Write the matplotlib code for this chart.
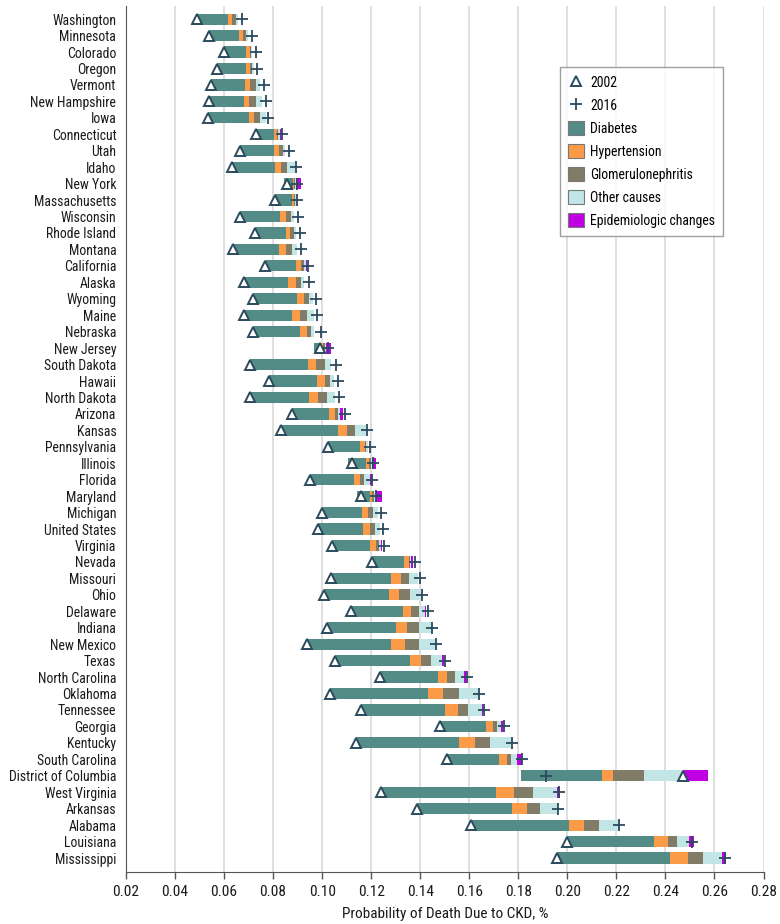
import matplotlib
matplotlib.use("Agg")
import matplotlib.pyplot as plt
from matplotlib import font_manager
from matplotlib.patches import Patch
from matplotlib.lines import Line2D
import numpy as np

installed = {f.name for f in font_manager.fontManager.ttflist}
main_font = "Lato"
for cand in ["Roboto Condensed", "Fira Sans Condensed", "Source Sans 3", "Lato"]:
    if cand in installed:
        main_font = cand
        break
plt.rcParams['font.family'] = [main_font, "DejaVu Sans"]

states = ["Washington", "Minnesota", "Colorado", "Oregon", "Vermont", "New Hampshire", "Iowa",
          "Connecticut", "Utah", "Idaho", "New York", "Massachusetts", "Wisconsin", "Rhode Island",
          "Montana", "California", "Alaska", "Wyoming", "Maine", "Nebraska", "New Jersey",
          "South Dakota", "Hawaii", "North Dakota", "Arizona", "Kansas", "Pennsylvania", "Illinois",
          "Florida", "Maryland", "Michigan", "United States", "Virginia", "Nevada", "Missouri",
          "Ohio", "Delaware", "Indiana", "New Mexico", "Texas", "North Carolina", "Oklahoma",
          "Tennessee", "Georgia", "Kentucky", "South Carolina", "District of Columbia",
          "West Virginia", "Arkansas", "Alabama", "Louisiana", "Mississippi"]

p2002 = [0.0489, 0.0538, 0.0598, 0.0572, 0.0545, 0.0538, 0.0533, 0.0730, 0.0663, 0.0632,
         0.0856, 0.0806, 0.0666, 0.0726, 0.0638, 0.0765, 0.0681, 0.0718, 0.0681, 0.0718,
         0.0990, 0.0707, 0.0783, 0.0707, 0.0878, 0.0833, 0.1024, 0.1123, 0.0952, 0.1160,
         0.1001, 0.0983, 0.1040, 0.1205, 0.1035, 0.1007, 0.1116, 0.1020, 0.0940, 0.1052,
         0.1235, 0.1031, 0.1157, 0.1482, 0.1137, 0.1509, 0.2473, 0.1238, 0.1385, 0.1608,
         0.1998, 0.1956]

p2016 = [0.0673, 0.0713, 0.0729, 0.0734, 0.0762, 0.0769, 0.0779, 0.0835, 0.0865, 0.0892,
         0.0899, 0.0897, 0.0901, 0.0908, 0.0914, 0.0942, 0.0946, 0.0973, 0.0979, 0.0995,
         0.1022, 0.1055, 0.1066, 0.1067, 0.1092, 0.1183, 0.1194, 0.1207, 0.1205, 0.1221,
         0.1238, 0.1248, 0.1251, 0.1378, 0.1401, 0.1409, 0.1432, 0.1450, 0.1466, 0.1500,
         0.1589, 0.1638, 0.1659, 0.1742, 0.1773, 0.1816, 0.1911, 0.1966, 0.1963, 0.2212,
         0.2509, 0.2645]

bar_left = [0.0489, 0.0538, 0.0598, 0.0572, 0.0545, 0.0538, 0.0533, 0.0730, 0.0663, 0.0632,
            0.0844, 0.0806, 0.0666, 0.0726, 0.0638, 0.0765, 0.0681, 0.0718, 0.0681, 0.0718,
            0.0967, 0.0707, 0.0783, 0.0707, 0.0878, 0.0833, 0.1024, 0.1105, 0.0952, 0.1142,
            0.1001, 0.0983, 0.1040, 0.1205, 0.1035, 0.1007, 0.1116, 0.1020, 0.0940, 0.1052,
            0.1235, 0.1031, 0.1157, 0.1482, 0.1137, 0.1509, 0.1810, 0.1238, 0.1385, 0.1608,
            0.1998, 0.1956]

diabetes = [0.0127, 0.0122, 0.0092, 0.0116, 0.0142, 0.0143, 0.0167, 0.0072, 0.0139, 0.0175,
            0.0036, 0.0070, 0.0161, 0.0125, 0.0186, 0.0130, 0.0179, 0.0181, 0.0196, 0.0190,
            0.0030, 0.0235, 0.0196, 0.0238, 0.0150, 0.0232, 0.0129, 0.0075, 0.0177, 0.0055,
            0.0163, 0.0184, 0.0154, 0.0128, 0.0247, 0.0266, 0.0214, 0.0283, 0.0342, 0.0305,
            0.0238, 0.0400, 0.0342, 0.0185, 0.0420, 0.0211, 0.0332, 0.0469, 0.0388, 0.0400,
            0.0355, 0.0464]

hypertension = [0.0016, 0.0018, 0.0014, 0.0016, 0.0020, 0.0020, 0.0022, 0.0015, 0.0022, 0.0026,
                0.0007, 0.0008, 0.0024, 0.0019, 0.0030, 0.0020, 0.0032, 0.0025, 0.0031, 0.0030,
                0.0006, 0.0031, 0.0031, 0.0038, 0.0023, 0.0036, 0.0020, 0.0011, 0.0027, 0.0008,
                0.0023, 0.0030, 0.0027, 0.0021, 0.0041, 0.0041, 0.0031, 0.0043, 0.0055, 0.0048,
                0.0038, 0.0062, 0.0055, 0.0030, 0.0065, 0.0032, 0.0045, 0.0075, 0.0061, 0.0061,
                0.0057, 0.0073]

glomerulonephritis = [0.0018, 0.0012, 0.0007, 0.0010, 0.0024, 0.0030, 0.0023, 0.0004, 0.0018, 0.0025,
                      0.0003, 0.0004, 0.0022, 0.0014, 0.0024, 0.0009, 0.0023, 0.0021, 0.0029, 0.0018,
                      0.0007, 0.0037, 0.0021, 0.0038, 0.0014, 0.0032, 0.0007, 0.0007, 0.0013, 0.0005,
                      0.0020, 0.0017, 0.0010, 0.0006, 0.0031, 0.0043, 0.0033, 0.0048, 0.0058, 0.0037,
                      0.0030, 0.0064, 0.0041, 0.0016, 0.0062, 0.0020, 0.0126, 0.0077, 0.0056, 0.0059,
                      0.0038, 0.0061]

other_causes = [0.0007, 0.0007, 0.0004, 0.0006, 0.0017, 0.0025, 0.0027, 0.0006, 0.0008, 0.0030,
                0.0005, 0.0004, 0.0011, 0.0008, 0.0021, 0.0009, 0.0009, 0.0017, 0.0028, 0.0009,
                0.0007, 0.0028, 0.0017, 0.0030, 0.0006, 0.0047, 0.0007, 0.0005, 0.0025, 0.0011,
                0.0021, 0.0021, 0.0007, 0.0004, 0.0037, 0.0044, 0.0024, 0.0054, 0.0064, 0.0045,
                0.0038, 0.0081, 0.0055, 0.0018, 0.0085, 0.0021, 0.0160, 0.0097, 0.0073, 0.0081,
                0.0050, 0.0077]

epidemiologic = [0.0, 0.0, 0.0, 0.0, 0.0, 0.0, 0.0, 0.0005, 0.0, 0.0,
                 0.0020, 0.0, 0.0, 0.0, 0.0, 0.0005, 0.0, 0.0, 0.0, 0.0,
                 0.0018, 0.0, 0.0, 0.0, 0.0015, 0.0, 0.0, 0.0018, 0.0011, 0.0025,
                 0.0, 0.0, 0.0008, 0.0008, 0.0, 0.0, 0.0006, 0.0, 0.0, 0.0009,
                 0.0008, 0.0, 0.0006, 0.0008, 0.0, 0.0024, 0.0099, 0.0012, 0.0, 0.0,
                 0.0018, 0.0017]

xticks = [0.02, 0.04, 0.06, 0.08, 0.10, 0.12, 0.14, 0.16, 0.18, 0.20, 0.22, 0.24, 0.26, 0.28]
legend_labels = ["2002", "2016", "Diabetes", "Hypertension", "Glomerulonephritis", "Other causes",
                 "Epidemiologic changes"]
xlabel_text = "Probability of Death Due to CKD, %"

c_diab = "#538b87"
c_hyp = "#fb9b47"
c_glom = "#817c67"
c_oth = "#c2e5e5"
c_epi = "#bf00e3"
c_mark = "#2b4a5e"
c_text = "#1a1a1a"

fig = plt.figure(figsize=(7.8, 9.24), dpi=100)
renderer = fig.canvas.get_renderer()


def fit_size(text, target_px, cap=11.5):
    t = fig.text(0, 0, text, fontsize=10)
    w = t.get_window_extent(renderer).width
    t.remove()
    return min(cap, 10 * target_px / w)


FS_LAB = fit_size("District of Columbia", 108)
FS_TICK = fit_size("0.28", 26.5)
FS_XLAB = fit_size(xlabel_text, 206)
FS_LEG = fit_size("Epidemiologic changes", 125)

ax = fig.add_axes([126 / 780, 52 / 924, (763.5 - 126) / 780, (918 - 52) / 924])

y = np.arange(len(states))
h = 0.68
left = np.array(bar_left, dtype=float)
segments = [(diabetes, c_diab), (hypertension, c_hyp), (glomerulonephritis, c_glom),
            (other_causes, c_oth), (epidemiologic, c_epi)]
for vals, col in segments:
    v = np.array(vals, dtype=float)
    ax.barh(y, v, left=left, height=h, color=col, edgecolor='none', zorder=3)
    left = left + v

TRI_MS, PLUS_MS = 6.5, 8.5
ax.plot(p2002, y, linestyle='none', marker='^', markersize=TRI_MS, markerfacecolor='white',
        markeredgecolor=c_mark, markeredgewidth=1.4, zorder=5)
ax.plot(p2016, y, linestyle='none', marker='+', markersize=PLUS_MS, markeredgecolor=c_mark,
        markeredgewidth=1.3, zorder=5)

ax.set_xlim(0.02, 0.28)
ax.set_ylim(51.85, -0.8)
ax.set_xticks(xticks)
ax.set_xticklabels([f"{t:.2f}" for t in xticks], fontsize=FS_TICK, color=c_text)
ax.set_yticks(y)
ax.set_yticklabels(states, fontsize=FS_LAB, color=c_text)
ax.tick_params(axis='y', length=0, pad=7)
ax.tick_params(axis='x', length=5, width=1, color="#555555", pad=4)
ax.xaxis.grid(True, color="#d9d9d9", linewidth=1.2, zorder=0)
ax.set_axisbelow(True)
for s in ['top', 'right']:
    ax.spines[s].set_visible(False)
ax.spines['left'].set_color("#555555")
ax.spines['bottom'].set_color("#555555")
ax.set_xlabel(xlabel_text, fontsize=FS_XLAB, color=c_text, labelpad=6)

handles = [
    Line2D([], [], linestyle='none', marker='^', markersize=TRI_MS, markerfacecolor='white',
           markeredgecolor=c_mark, markeredgewidth=1.4),
    Line2D([], [], linestyle='none', marker='+', markersize=PLUS_MS, markeredgecolor=c_mark,
           markeredgewidth=1.3),
    Patch(facecolor=c_diab, edgecolor="#777777", linewidth=0.8),
    Patch(facecolor=c_hyp, edgecolor="#777777", linewidth=0.8),
    Patch(facecolor=c_glom, edgecolor="#777777", linewidth=0.8),
    Patch(facecolor=c_oth, edgecolor="#777777", linewidth=0.8),
    Patch(facecolor=c_epi, edgecolor="#777777", linewidth=0.8),
]
fpx = FS_LEG * 100 / 72
leg = ax.legend(handles, legend_labels, loc='upper left', bbox_to_anchor=(560 / 780, 1 - 67 / 924),
                bbox_transform=fig.transFigure, fontsize=FS_LEG, frameon=True, fancybox=False,
                handlelength=16 / fpx, handleheight=16 / fpx, labelspacing=8.5 / fpx,
                handletextpad=6 / fpx, borderpad=8 / fpx, borderaxespad=0)
leg.get_frame().set_edgecolor("#888888")
leg.get_frame().set_linewidth(1)

fig.savefig("out.png", dpi=100)
